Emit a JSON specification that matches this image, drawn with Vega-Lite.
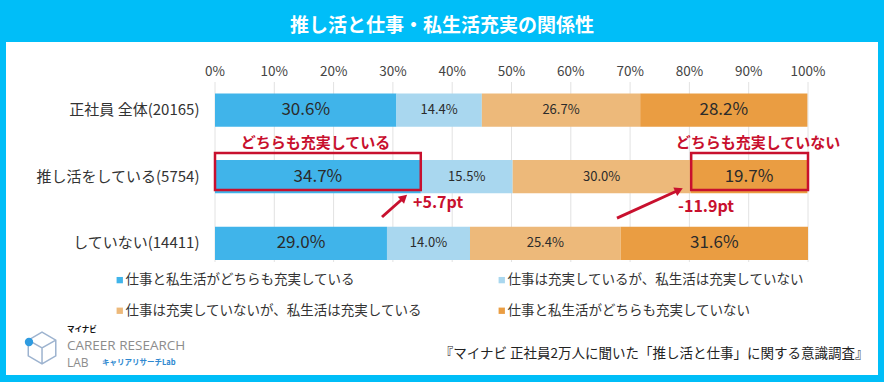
{
  "$schema": "https://vega.github.io/schema/vega-lite/v6.json",
  "width": 872,
  "height": 333,
  "autosize": {"type": "none"},
  "padding": {"left": 6, "top": 42, "right": 6, "bottom": 7},
  "background": "#00BEF8",
  "title": {"text": "推し活と仕事・私生活充実の関係性", "color": "white", "fontSize": 19, "fontWeight": "bold", "font": "Noto Sans CJK JP", "anchor": "middle", "frame": "group", "baseline": "middle", "offset": -3},
  "config": {"view": {"fill": "white", "stroke": null}, "font": "Noto Sans CJK JP"},
  "datasets": {
    "bars": [
      {"row": "正社員 全体(20165)", "cat": "仕事と私生活がどちらも充実している", "k": 1, "v": 30.6},
      {"row": "正社員 全体(20165)", "cat": "仕事は充実しているが、私生活は充実していない", "k": 2, "v": 14.4},
      {"row": "正社員 全体(20165)", "cat": "仕事は充実していないが、私生活は充実している", "k": 3, "v": 26.7},
      {"row": "正社員 全体(20165)", "cat": "仕事と私生活がどちらも充実していない", "k": 4, "v": 28.2},
      {"row": "推し活をしている(5754)", "cat": "仕事と私生活がどちらも充実している", "k": 1, "v": 34.7},
      {"row": "推し活をしている(5754)", "cat": "仕事は充実しているが、私生活は充実していない", "k": 2, "v": 15.5},
      {"row": "推し活をしている(5754)", "cat": "仕事は充実していないが、私生活は充実している", "k": 3, "v": 30.0},
      {"row": "推し活をしている(5754)", "cat": "仕事と私生活がどちらも充実していない", "k": 4, "v": 19.7},
      {"row": "していない(14411)", "cat": "仕事と私生活がどちらも充実している", "k": 1, "v": 29.0},
      {"row": "していない(14411)", "cat": "仕事は充実しているが、私生活は充実していない", "k": 2, "v": 14.0},
      {"row": "していない(14411)", "cat": "仕事は充実していないが、私生活は充実している", "k": 3, "v": 25.4},
      {"row": "していない(14411)", "cat": "仕事と私生活がどちらも充実していない", "k": 4, "v": 31.6}
    ],
    "grid": [{"g": 0}, {"g": 10}, {"g": 20}, {"g": 30}, {"g": 40}, {"g": 50}, {"g": 60}, {"g": 70}, {"g": 80}, {"g": 90}, {"g": 100}],
    "boxes": [
      {"x": 0, "x2": 34.7, "y": 1.683, "y2": 2.3},
      {"x": 80.3, "x2": 100, "y": 1.683, "y2": 2.3}
    ],
    "heads": [
      {"t": "どちらも充実している", "x": 16.95, "y": 1.517},
      {"t": "どちらも充実していない", "x": 91.57, "y": 1.517}
    ],
    "pts": [
      {"t": "+5.7pt", "x": 33.39, "y": 2.517},
      {"t": "-11.9pt", "x": 78.08, "y": 2.583}
    ],
    "arrows": [
      {"id": "a", "x": 28.16, "y": 2.75, "x2": 31.87, "y2": 2.425},
      {"id": "b", "x": 67.79, "y": 2.767, "x2": 78.25, "y2": 2.3}
    ]
  },
  "resolve": {"scale": {"y": "independent"}},
  "layer": [
    {
      "data": {"name": "grid"},
      "mark": {"type": "rule", "color": "#E2E2E2", "strokeWidth": 1},
      "encoding": {
        "x": {"field": "g", "type": "quantitative", "scale": {"domain": [-35.245, 111.804], "nice": false, "zero": false}, "axis": null},
        "y": {"datum": 0.5, "type": "quantitative", "scale": {"domain": [-0.16667, 5.38333], "reverse": true, "nice": false, "zero": false}, "axis": null},
        "y2": {"datum": 3.5}
      }
    },
    {
      "data": {"name": "grid"},
      "transform": [{"calculate": "datum.g + '%'", "as": "gl"}],
      "mark": {"type": "text", "color": "#444444", "fontSize": 13.5, "align": "center", "baseline": "middle"},
      "encoding": {
        "x": {"field": "g", "type": "quantitative", "scale": {"domain": [-35.245, 111.804], "nice": false, "zero": false}, "axis": null},
        "y": {"datum": 0.333, "type": "quantitative", "scale": {"domain": [-0.16667, 5.38333], "reverse": true, "nice": false, "zero": false}, "axis": null},
        "text": {"field": "gl"}
      }
    },
    {
      "data": {"name": "bars"},
      "transform": [
        {"stack": "v", "groupby": ["row"], "sort": [{"field": "k"}], "as": ["s0", "s1"]},
        {"calculate": "(datum.s0 + datum.s1) / 2", "as": "mid"},
        {"calculate": "format(datum.v, '.1f') + '%'", "as": "label"}
      ],
      "encoding": {
        "y": {"field": "row", "type": "nominal", "sort": ["正社員 全体(20165)", "推し活をしている(5754)", "していない(14411)"], "scale": {"type": "band", "paddingInner": 0, "paddingOuter": 1.275, "align": 0.2614},
          "axis": {"orient": "left", "offset": -200, "title": null, "ticks": false, "domain": false, "grid": false, "labelPadding": 7, "labelFontSize": 15, "labelColor": "#333333", "labelLimit": 300}}
      },
      "layer": [
        {
          "mark": {"type": "bar", "height": {"band": 0.5}},
          "encoding": {
            "x": {"field": "s0", "type": "quantitative", "scale": {"domain": [-35.245, 111.804], "nice": false, "zero": false}, "axis": null},
            "x2": {"field": "s1"},
            "color": {"field": "cat", "type": "nominal",
              "scale": {"domain": ["仕事と私生活がどちらも充実している", "仕事は充実しているが、私生活は充実していない", "仕事は充実していないが、私生活は充実している", "仕事と私生活がどちらも充実していない"], "range": ["#40B4EA", "#A9D7EF", "#EDB97A", "#EA9D42"]},
              "legend": {"title": null, "orient": "none", "legendX": 107, "legendY": 231, "direction": "horizontal", "columns": 2, "columnPadding": 72, "rowPadding": 16, "symbolType": "square", "symbolSize": 40, "symbolStrokeWidth": 0, "labelFontSize": 13.5, "labelColor": "#333333", "labelLimit": 400, "labelOffset": -1}}
          }
        },
        {
          "mark": {"type": "text", "color": "#2B2B2B"},
          "encoding": {
            "x": {"field": "mid", "type": "quantitative", "scale": {"domain": [-35.245, 111.804], "nice": false, "zero": false}, "axis": null},
            "text": {"field": "label"},
            "size": {"condition": {"test": "datum.k == 1 || datum.k == 4", "value": 17}, "value": 13}
          }
        }
      ]
    },
    {
      "data": {"name": "boxes"},
      "mark": {"type": "rect", "filled": false, "color": "#C8102E", "strokeWidth": 2.5},
      "encoding": {
        "x": {"field": "x", "type": "quantitative", "scale": {"domain": [-35.245, 111.804], "nice": false, "zero": false}, "axis": null},
        "x2": {"field": "x2"},
        "y": {"field": "y", "type": "quantitative", "scale": {"domain": [-0.16667, 5.38333], "reverse": true, "nice": false, "zero": false}, "axis": null},
        "y2": {"field": "y2"}
      }
    },
    {
      "data": {"name": "heads"},
      "mark": {"type": "text", "color": "#C8102E", "fontSize": 15, "fontWeight": "bold", "align": "center", "baseline": "middle"},
      "encoding": {
        "x": {"field": "x", "type": "quantitative", "scale": {"domain": [-35.245, 111.804], "nice": false, "zero": false}, "axis": null},
        "y": {"field": "y", "type": "quantitative", "scale": {"domain": [-0.16667, 5.38333], "reverse": true, "nice": false, "zero": false}, "axis": null},
        "text": {"field": "t"}
      }
    },
    {
      "data": {"name": "pts"},
      "mark": {"type": "text", "color": "#C8102E", "fontSize": 16, "fontWeight": "bold", "align": "left", "baseline": "middle"},
      "encoding": {
        "x": {"field": "x", "type": "quantitative", "scale": {"domain": [-35.245, 111.804], "nice": false, "zero": false}, "axis": null},
        "y": {"field": "y", "type": "quantitative", "scale": {"domain": [-0.16667, 5.38333], "reverse": true, "nice": false, "zero": false}, "axis": null},
        "text": {"field": "t"}
      }
    },
    {
      "data": {"name": "arrows"},
      "mark": {"type": "rule", "color": "#C8102E", "strokeWidth": 3},
      "encoding": {
        "x": {"field": "x", "type": "quantitative", "scale": {"domain": [-35.245, 111.804], "nice": false, "zero": false}, "axis": null},
        "x2": {"field": "x2"},
        "y": {"field": "y", "type": "quantitative", "scale": {"domain": [-0.16667, 5.38333], "reverse": true, "nice": false, "zero": false}, "axis": null},
        "y2": {"field": "y2"}
      }
    },
    {
      "data": {"name": "arrows"},
      "mark": {"type": "point", "shape": "triangle-up", "filled": true, "color": "#C8102E", "size": 90, "opacity": 1},
      "encoding": {
        "x": {"field": "x2", "type": "quantitative", "scale": {"domain": [-35.245, 111.804], "nice": false, "zero": false}, "axis": null},
        "y": {"field": "y2", "type": "quantitative", "scale": {"domain": [-0.16667, 5.38333], "reverse": true, "nice": false, "zero": false}, "axis": null},
        "angle": {"condition": {"test": "datum.id == 'a'", "value": 48.7}, "value": 65.6}
      }
    },
    {
      "data": {"values": [{"t": "『マイナビ 正社員2万人に聞いた「推し活と仕事」に関する意識調査』", "x": 110.2, "y": 5.033}]},
      "mark": {"type": "text", "color": "#222222", "fontSize": 13.5, "align": "right", "baseline": "middle"},
      "encoding": {
        "x": {"field": "x", "type": "quantitative", "scale": {"domain": [-35.245, 111.804], "nice": false, "zero": false}, "axis": null},
        "y": {"field": "y", "type": "quantitative", "scale": {"domain": [-0.16667, 5.38333], "reverse": true, "nice": false, "zero": false}, "axis": null},
        "text": {"field": "t"}
      }
    },
    {
      "data": {"values": [{"t": "マイナビ", "x": -24.96, "y": 4.64}]},
      "mark": {"type": "text", "color": "#111111", "fontSize": 7.5, "fontWeight": "bold", "align": "left", "baseline": "middle"},
      "encoding": {
        "x": {"field": "x", "type": "quantitative", "scale": {"domain": [-35.245, 111.804], "nice": false, "zero": false}, "axis": null},
        "y": {"field": "y", "type": "quantitative", "scale": {"domain": [-0.16667, 5.38333], "reverse": true, "nice": false, "zero": false}, "axis": null},
        "text": {"field": "t"}
      }
    },
    {
      "data": {"values": [{"t": "CAREER RESEARCH", "x": -24.96, "y": 4.9}, {"t": "LAB", "x": -24.96, "y": 5.18}]},
      "mark": {"type": "text", "color": "#8C8C8C", "font": "Open Sans", "align": "left", "baseline": "middle"},
      "encoding": {
        "x": {"field": "x", "type": "quantitative", "scale": {"domain": [-35.245, 111.804], "nice": false, "zero": false}, "axis": null},
        "y": {"field": "y", "type": "quantitative", "scale": {"domain": [-0.16667, 5.38333], "reverse": true, "nice": false, "zero": false}, "axis": null},
        "text": {"field": "t"},
        "size": {"condition": {"test": "datum.t == 'LAB'", "value": 12}, "value": 13.5}
      }
    },
    {
      "data": {"values": [{"t": "キャリアリサーチLab", "x": -19.06, "y": 5.18}]},
      "mark": {"type": "text", "color": "#2E88D0", "fontSize": 7.5, "fontWeight": "bold", "align": "left", "baseline": "middle"},
      "encoding": {
        "x": {"field": "x", "type": "quantitative", "scale": {"domain": [-35.245, 111.804], "nice": false, "zero": false}, "axis": null},
        "y": {"field": "y", "type": "quantitative", "scale": {"domain": [-0.16667, 5.38333], "reverse": true, "nice": false, "zero": false}, "axis": null},
        "text": {"field": "t"}
      }
    },
    {
      "data": {"values": [{"x": -29.17, "y": 4.933}]},
      "mark": {"type": "point", "shape": "M0,-1L0.87,-0.5L0.87,0.5L0,1L-0.87,0.5L-0.87,-0.5ZM-0.87,-0.5L0,0L0.87,-0.5M0,0L0,1", "filled": false, "color": "#9DB3CF", "strokeWidth": 1.5, "size": 1000, "opacity": 1},
      "encoding": {
        "x": {"field": "x", "type": "quantitative", "scale": {"domain": [-35.245, 111.804], "nice": false, "zero": false}, "axis": null},
        "y": {"field": "y", "type": "quantitative", "scale": {"domain": [-0.16667, 5.38333], "reverse": true, "nice": false, "zero": false}, "axis": null}
      }
    },
    {
      "data": {"values": [{"x": -31.37, "y": 4.833}]},
      "mark": {"type": "point", "shape": "circle", "filled": true, "color": "#2E9BE0", "size": 70, "opacity": 1},
      "encoding": {
        "x": {"field": "x", "type": "quantitative", "scale": {"domain": [-35.245, 111.804], "nice": false, "zero": false}, "axis": null},
        "y": {"field": "y", "type": "quantitative", "scale": {"domain": [-0.16667, 5.38333], "reverse": true, "nice": false, "zero": false}, "axis": null}
      }
    }
  ]
}
